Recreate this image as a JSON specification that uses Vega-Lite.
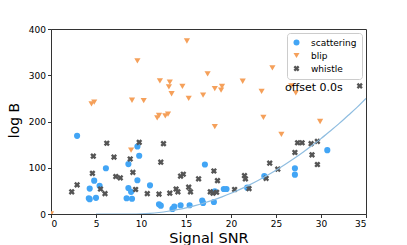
{
  "$schema": "https://vega.github.io/schema/vega-lite/v6.json",
  "width": 315,
  "height": 185,
  "autosize": {"type": "none"},
  "padding": {"left": 51, "top": 29, "right": 41, "bottom": 31},
  "background": "white",
  "config": {
    "font": "DejaVu Sans",
    "view": {"stroke": "#333333", "strokeWidth": 1},
    "axis": {
      "grid": false,
      "domainColor": "#333333",
      "tickColor": "#333333",
      "tickSize": 3.5,
      "labelFontSize": 9,
      "labelColor": "#000000",
      "labelPadding": 2,
      "titleFontWeight": "normal",
      "titleColor": "#000000"
    }
  },
  "datasets": {
    "pts": [
      {"snr": 2.9, "logb": 169, "type": "scattering"},
      {"snr": 9.6, "logb": 146, "type": "scattering"},
      {"snr": 9.8, "logb": 126, "type": "scattering"},
      {"snr": 8.6, "logb": 108, "type": "scattering"},
      {"snr": 6.1, "logb": 99, "type": "scattering"},
      {"snr": 4.8, "logb": 72, "type": "scattering"},
      {"snr": 9.6, "logb": 73, "type": "scattering"},
      {"snr": 5.4, "logb": 61, "type": "scattering"},
      {"snr": 4.3, "logb": 55, "type": "scattering"},
      {"snr": 8.6, "logb": 56, "type": "scattering"},
      {"snr": 8.9, "logb": 48, "type": "scattering"},
      {"snr": 11.0, "logb": 62, "type": "scattering"},
      {"snr": 4.2, "logb": 34, "type": "scattering"},
      {"snr": 4.3, "logb": 32, "type": "scattering"},
      {"snr": 5.0, "logb": 35, "type": "scattering"},
      {"snr": 8.4, "logb": 34, "type": "scattering"},
      {"snr": 9.0, "logb": 33, "type": "scattering"},
      {"snr": 12.0, "logb": 21, "type": "scattering"},
      {"snr": 12.2, "logb": 18, "type": "scattering"},
      {"snr": 13.5, "logb": 11, "type": "scattering"},
      {"snr": 13.7, "logb": 16, "type": "scattering"},
      {"snr": 14.4, "logb": 19, "type": "scattering"},
      {"snr": 15.4, "logb": 19, "type": "scattering"},
      {"snr": 16.8, "logb": 29, "type": "scattering"},
      {"snr": 16.9, "logb": 24, "type": "scattering"},
      {"snr": 17.1, "logb": 107, "type": "scattering"},
      {"snr": 18.2, "logb": 49, "type": "scattering"},
      {"snr": 18.1, "logb": 26, "type": "scattering"},
      {"snr": 19.2, "logb": 54, "type": "scattering"},
      {"snr": 19.5, "logb": 54, "type": "scattering"},
      {"snr": 21.8, "logb": 57, "type": "scattering"},
      {"snr": 23.7, "logb": 82, "type": "scattering"},
      {"snr": 27.1, "logb": 99, "type": "scattering"},
      {"snr": 27.1, "logb": 85, "type": "scattering"},
      {"snr": 30.7, "logb": 138, "type": "scattering"},
      {"snr": 0.0, "logb": 0, "type": "blip"},
      {"snr": 4.5, "logb": 238, "type": "blip"},
      {"snr": 4.8, "logb": 242, "type": "blip"},
      {"snr": 9.6, "logb": 331, "type": "blip"},
      {"snr": 9.0, "logb": 246, "type": "blip"},
      {"snr": 10.3, "logb": 245, "type": "blip"},
      {"snr": 12.1, "logb": 288, "type": "blip"},
      {"snr": 13.2, "logb": 285, "type": "blip"},
      {"snr": 13.1, "logb": 275, "type": "blip"},
      {"snr": 13.4, "logb": 260, "type": "blip"},
      {"snr": 14.6, "logb": 276, "type": "blip"},
      {"snr": 15.1, "logb": 374, "type": "blip"},
      {"snr": 15.3, "logb": 250, "type": "blip"},
      {"snr": 16.9, "logb": 257, "type": "blip"},
      {"snr": 17.4, "logb": 303, "type": "blip"},
      {"snr": 11.8, "logb": 208, "type": "blip"},
      {"snr": 12.0, "logb": 213, "type": "blip"},
      {"snr": 12.7, "logb": 212, "type": "blip"},
      {"snr": 13.0, "logb": 216, "type": "blip"},
      {"snr": 8.9, "logb": 138, "type": "blip"},
      {"snr": 18.2, "logb": 271, "type": "blip"},
      {"snr": 18.9, "logb": 268, "type": "blip"},
      {"snr": 19.0, "logb": 276, "type": "blip"},
      {"snr": 21.3, "logb": 287, "type": "blip"},
      {"snr": 23.4, "logb": 265, "type": "blip"},
      {"snr": 24.6, "logb": 316, "type": "blip"},
      {"snr": 26.7, "logb": 277, "type": "blip"},
      {"snr": 27.2, "logb": 262, "type": "blip"},
      {"snr": 23.6, "logb": 209, "type": "blip"},
      {"snr": 29.9, "logb": 200, "type": "blip"},
      {"snr": 18.2, "logb": 189, "type": "blip"},
      {"snr": 25.6, "logb": 172, "type": "blip"},
      {"snr": 2.3, "logb": 48, "type": "whistle"},
      {"snr": 2.9, "logb": 63, "type": "whistle"},
      {"snr": 4.6, "logb": 88, "type": "whistle"},
      {"snr": 4.7, "logb": 125, "type": "whistle"},
      {"snr": 6.2, "logb": 153, "type": "whistle"},
      {"snr": 7.0, "logb": 123, "type": "whistle"},
      {"snr": 5.5, "logb": 54, "type": "whistle"},
      {"snr": 6.0, "logb": 44, "type": "whistle"},
      {"snr": 7.2, "logb": 81, "type": "whistle"},
      {"snr": 7.7, "logb": 78, "type": "whistle"},
      {"snr": 8.8, "logb": 119, "type": "whistle"},
      {"snr": 9.1, "logb": 90, "type": "whistle"},
      {"snr": 9.8, "logb": 155, "type": "whistle"},
      {"snr": 9.4, "logb": 53, "type": "whistle"},
      {"snr": 10.7, "logb": 44, "type": "whistle"},
      {"snr": 12.2, "logb": 112, "type": "whistle"},
      {"snr": 12.5, "logb": 152, "type": "whistle"},
      {"snr": 12.0, "logb": 43, "type": "whistle"},
      {"snr": 13.2, "logb": 45, "type": "whistle"},
      {"snr": 13.9, "logb": 54, "type": "whistle"},
      {"snr": 14.1, "logb": 48, "type": "whistle"},
      {"snr": 14.4, "logb": 82, "type": "whistle"},
      {"snr": 14.7, "logb": 86, "type": "whistle"},
      {"snr": 15.3, "logb": 58, "type": "whistle"},
      {"snr": 15.5, "logb": 48, "type": "whistle"},
      {"snr": 16.4, "logb": 76, "type": "whistle"},
      {"snr": 17.7, "logb": 48, "type": "whistle"},
      {"snr": 18.0, "logb": 45, "type": "whistle"},
      {"snr": 18.4, "logb": 47, "type": "whistle"},
      {"snr": 18.1, "logb": 93, "type": "whistle"},
      {"snr": 18.5, "logb": 72, "type": "whistle"},
      {"snr": 20.4, "logb": 53, "type": "whistle"},
      {"snr": 21.5, "logb": 83, "type": "whistle"},
      {"snr": 21.6, "logb": 76, "type": "whistle"},
      {"snr": 22.0, "logb": 55, "type": "whistle"},
      {"snr": 23.9, "logb": 77, "type": "whistle"},
      {"snr": 24.3, "logb": 110, "type": "whistle"},
      {"snr": 25.2, "logb": 97, "type": "whistle"},
      {"snr": 27.1, "logb": 133, "type": "whistle"},
      {"snr": 27.4, "logb": 154, "type": "whistle"},
      {"snr": 27.9, "logb": 154, "type": "whistle"},
      {"snr": 28.9, "logb": 152, "type": "whistle"},
      {"snr": 29.6, "logb": 157, "type": "whistle"},
      {"snr": 29.0, "logb": 128, "type": "whistle"},
      {"snr": 29.6, "logb": 107, "type": "whistle"},
      {"snr": 34.3, "logb": 277, "type": "whistle"}
    ],
    "curve": [
      {"snr": 5, "logb": 0},
      {"snr": 9, "logb": 0},
      {"snr": 10, "logb": 0.4},
      {"snr": 11, "logb": 1.5},
      {"snr": 12, "logb": 3.3},
      {"snr": 13, "logb": 5.9},
      {"snr": 14, "logb": 9.3},
      {"snr": 15, "logb": 13.3},
      {"snr": 16, "logb": 18.1},
      {"snr": 17, "logb": 23.7},
      {"snr": 18, "logb": 29.9},
      {"snr": 19, "logb": 37},
      {"snr": 20, "logb": 44.8},
      {"snr": 21, "logb": 53.3},
      {"snr": 22, "logb": 62.5},
      {"snr": 23, "logb": 72.5},
      {"snr": 24, "logb": 83.3},
      {"snr": 25, "logb": 94.7},
      {"snr": 26, "logb": 107},
      {"snr": 27, "logb": 119.9},
      {"snr": 28, "logb": 133.6},
      {"snr": 29, "logb": 148},
      {"snr": 30, "logb": 163},
      {"snr": 31, "logb": 179},
      {"snr": 32, "logb": 195.4},
      {"snr": 33, "logb": 213},
      {"snr": 34, "logb": 230.5},
      {"snr": 35, "logb": 250}
    ]
  },
  "layer": [
    {
      "data": {"name": "pts"},
      "mark": {"type": "point", "filled": true, "opacity": 1, "size": 38, "clip": true},
      "encoding": {
        "x": {
          "field": "snr", "type": "quantitative",
          "scale": {"domain": [0, 35], "nice": false, "zero": false},
          "axis": {"values": [0, 5, 10, 15, 20, 25, 30, 35], "title": "Signal SNR", "titleFontSize": 14.5, "titleBaseline": "alphabetic", "titleX": 157.5, "titleY": 28}
        },
        "y": {
          "field": "logb", "type": "quantitative",
          "scale": {"domain": [0, 400], "nice": false, "zero": false},
          "axis": {"values": [0, 50, 100, 150, 200, 250, 300, 350, 400], "title": "log B", "titleFontSize": 14, "titleAngle": -90, "titleBaseline": "middle", "titleAlign": "center", "titleX": -37, "titleY": 91}
        },
        "color": {
          "field": "type", "type": "nominal",
          "scale": {"domain": ["scattering", "blip", "whistle"], "range": ["#42a5f5", "#f5a05a", "#555555"]},
          "legend": {
            "title": null, "orient": "top-right", "offset": 4, "padding": 5,
            "strokeColor": "#cccccc", "fillColor": "#ffffff", "cornerRadius": 3,
            "labelFontSize": 9, "labelColor": "#000000", "symbolSize": 36, "rowPadding": 3, "labelOffset": 10
          }
        },
        "shape": {
          "field": "type", "type": "nominal",
          "scale": {"domain": ["scattering", "blip", "whistle"], "range": ["circle", "triangle-down", "M-1,-0.45L-0.45,-1L0,-0.55L0.45,-1L1,-0.45L0.55,0L1,0.45L0.45,1L0,0.55L-0.45,1L-1,0.45L-0.55,0Z"]},
          "legend": {"title": null}
        }
      }
    },
    {
      "data": {"name": "curve"},
      "mark": {"type": "line", "color": "#8fbde0", "strokeWidth": 1.2, "interpolate": "monotone", "clip": true},
      "encoding": {
        "x": {"field": "snr", "type": "quantitative"},
        "y": {"field": "logb", "type": "quantitative"}
      }
    },
    {
      "data": {"values": [{"label": "offset 0.0s"}]},
      "mark": {"type": "text", "align": "left", "baseline": "middle", "fontSize": 11, "color": "#000000"},
      "encoding": {
        "x": {"datum": 26},
        "y": {"datum": 272},
        "text": {"field": "label"}
      }
    }
  ]
}
